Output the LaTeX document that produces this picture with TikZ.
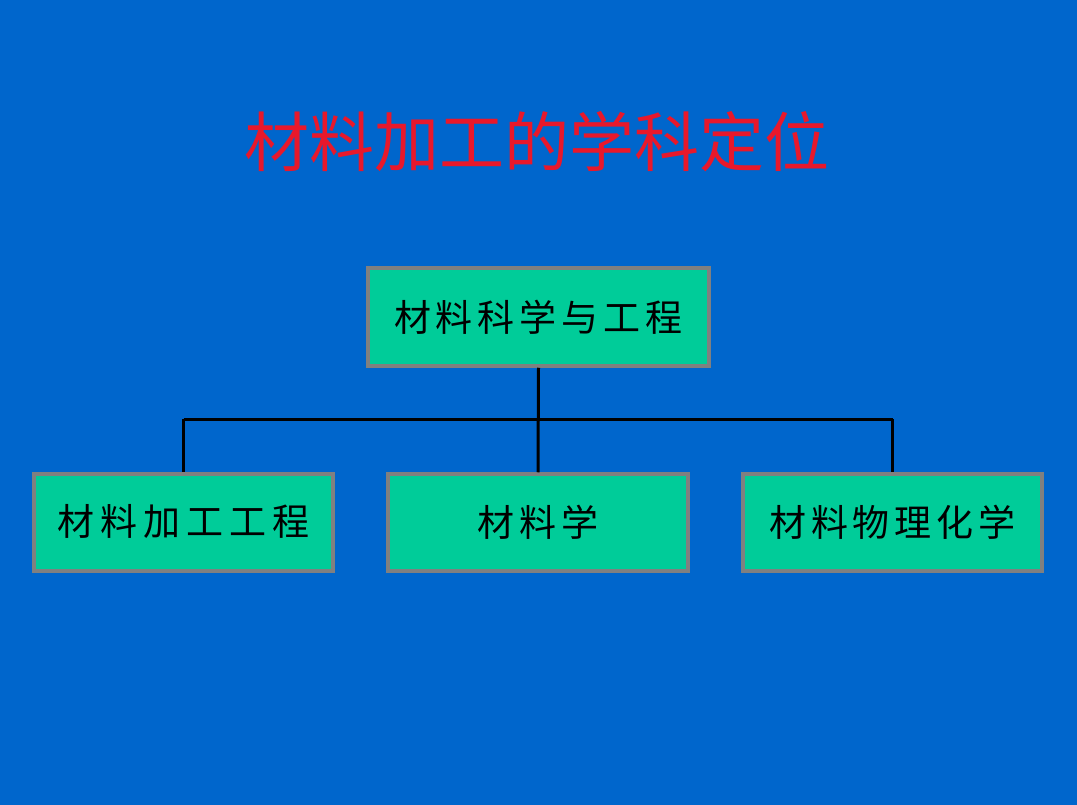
\documentclass[tikz,border=0pt]{standalone}
\usepackage{fontspec}
\newfontfamily\cjk{Noto Sans CJK SC}
\definecolor{bg}{HTML}{0066CC}
\definecolor{boxfill}{HTML}{00CC99}
\definecolor{boxline}{HTML}{808080}
\definecolor{titlered}{HTML}{E8182B}
\begin{document}
\begin{tikzpicture}[x=1pt,y=-1pt,
  bx/.style={draw=boxline,line width=3.5pt,fill=boxfill,inner sep=0pt,font=\cjk\fontsize{37}{40}\selectfont},
  conn/.style={draw=black,line width=3pt}]
\fill[bg] (0,0) rectangle (1077,805);
\useasboundingbox (0,0) rectangle (1077,805);
\node[text=titlered,font=\cjk\fontsize{65}{70}\selectfont] (title) at (537,142) {材料加工的学科定位};
\node[bx,minimum width=341pt,minimum height=98pt] (top) at (538.5,317) {材\hspace{5pt}料\hspace{5pt}科\hspace{5pt}学\hspace{5pt}与\hspace{5pt}工\hspace{5pt}程};
\node[bx,minimum width=299pt,minimum height=97pt] (l) at (183.5,522.5) {\raisebox{5pt}{材\hspace{6pt}料\hspace{6pt}加\hspace{6pt}工\hspace{6pt}工\hspace{6pt}程}};
\node[bx,minimum width=300pt,minimum height=97pt] (m) at (538,522.5) {材\hspace{5pt}料\hspace{5pt}学};
\node[bx,minimum width=299pt,minimum height=97pt] (r) at (892.5,522.5) {材\hspace{5pt}料\hspace{5pt}物\hspace{5pt}理\hspace{5pt}化\hspace{5pt}学};
\coordinate (jl) at (183.5,419);
\coordinate (jr) at (892.5,419);
\draw[conn] (top.south) -- (m.north);
\draw[conn] (jl) -- (jr);
\draw[conn] (jl) -- (l.north);
\draw[conn] (jr) -- (r.north);
\end{tikzpicture}
\end{document}
